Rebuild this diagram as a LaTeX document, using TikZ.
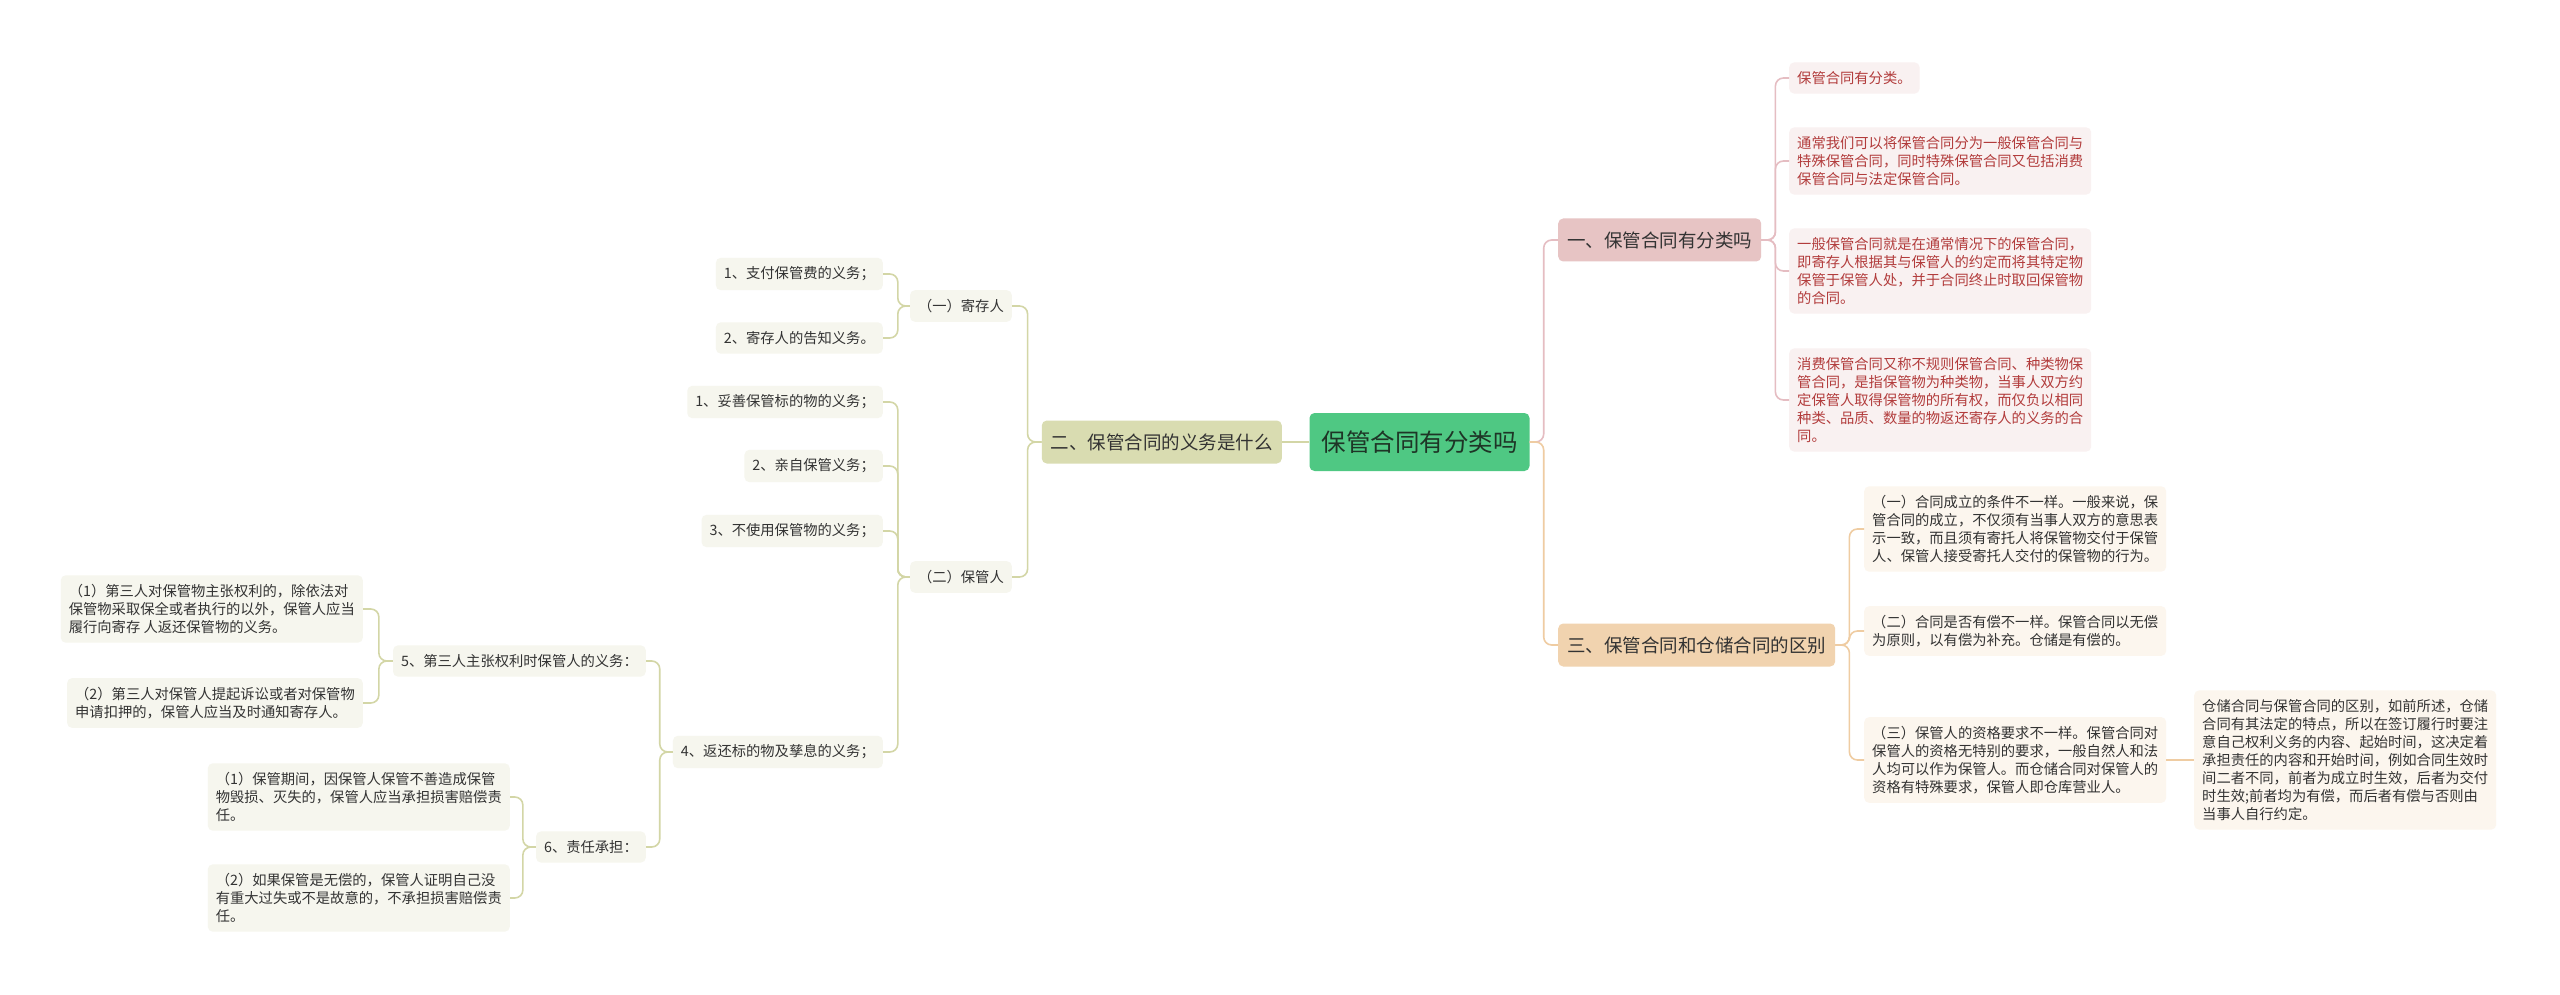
\documentclass[tikz,border=0pt]{standalone}
\usepackage{fontspec}
\newfontfamily\cjk{Noto Sans CJK SC}
\definecolor{cgreen}{HTML}{4FC883}
\definecolor{cgreentext}{HTML}{1E3526}
\definecolor{bpink}{HTML}{E7C4C4}
\definecolor{bolive}{HTML}{D9DCB1}
\definecolor{bpeach}{HTML}{F1D3AF}
\definecolor{lpink}{HTML}{F9F1F1}
\definecolor{lolive}{HTML}{F6F6EE}
\definecolor{lpeach}{HTML}{FCF6EE}
\definecolor{tpink}{HTML}{B23C3C}
\definecolor{tdark}{HTML}{333333}
\definecolor{kpink}{HTML}{E5BDC2}
\definecolor{kolive}{HTML}{D3D6A6}
\definecolor{kpeach}{HTML}{EFCCA2}
\tikzset{
  rootbox/.style={draw=none,fill=cgreen,text=cgreentext,rounded corners=5pt,font=\cjk\fontsize{24.5}{28}\selectfont,inner xsep=12pt,minimum height=58pt},
  branchbox/.style={draw=none,rounded corners=5pt,font=\cjk\fontsize{18.5}{22}\selectfont,text=tdark,inner xsep=9pt,minimum height=43pt},
  leafbox/.style={draw=none,rounded corners=5pt,font=\cjk\fontsize{14.3}{18}\selectfont,inner xsep=8pt,inner ysep=9pt,align=left},
  pinkleaf/.style={leafbox,fill=lpink,text=tpink},
  oliveleaf/.style={leafbox,fill=lolive,text=tdark,minimum height=31pt},
  peachleaf/.style={leafbox,fill=lpeach,text=tdark},
  link/.style={line width=1.6pt,rounded corners=8pt},
  pinklink/.style={link,draw=kpink},
  olivelink/.style={link,draw=kolive},
  peachlink/.style={link,draw=kpeach}
}
\begin{document}
\begin{tikzpicture}[x=1pt,y=-1pt]
\useasboundingbox[fill=white] (0,0) rectangle (2560,995);
% root and branches
\node[rootbox] (c) at (1419.5,442) {保管合同有分类吗};
\node[branchbox,fill=bpink,anchor=west] (b1) at (1558,240) {一、保管合同有分类吗};
\node[branchbox,fill=bolive,anchor=east] (b2) at (1282,442) {二、保管合同的义务是什么};
\node[branchbox,fill=bpeach,anchor=west] (b3) at (1558,645) {三、保管合同和仓储合同的区别};
% pink leaves
\node[pinkleaf,anchor=west] (p1) at (1789,78) {保管合同有分类。};
\node[pinkleaf,anchor=west] (p2) at (1789,161) {通常我们可以将保管合同分为一般保管合同与\\特殊保管合同，同时特殊保管合同又包括消费\\保管合同与法定保管合同。};
\node[pinkleaf,anchor=west] (p3) at (1789,271) {一般保管合同就是在通常情况下的保管合同，\\即寄存人根据其与保管人的约定而将其特定物\\保管于保管人处，并于合同终止时取回保管物\\的合同。};
\node[pinkleaf,anchor=west] (p4) at (1789,400) {消费保管合同又称不规则保管合同、种类物保\\管合同，是指保管物为种类物，当事人双方约\\定保管人取得保管物的所有权，而仅负以相同\\种类、品质、数量的物返还寄存人的义务的合\\同。};
% peach leaves
\node[peachleaf,anchor=west] (q1) at (1864,529) {（一）合同成立的条件不一样。一般来说，保\\管合同的成立，不仅须有当事人双方的意思表\\示一致，而且须有寄托人将保管物交付于保管\\人、保管人接受寄托人交付的保管物的行为。};
\node[peachleaf,anchor=west] (q2) at (1864,631) {（二）合同是否有偿不一样。保管合同以无偿\\为原则，以有偿为补充。仓储是有偿的。};
\node[peachleaf,anchor=west] (q3) at (1864,760) {（三）保管人的资格要求不一样。保管合同对\\保管人的资格无特别的要求，一般自然人和法\\人均可以作为保管人。而仓储合同对保管人的\\资格有特殊要求，保管人即仓库营业人。};
\node[peachleaf,anchor=west] (q4) at (2194,760) {仓储合同与保管合同的区别，如前所述，仓储\\合同有其法定的特点，所以在签订履行时要注\\意自己权利义务的内容、起始时间，这决定着\\承担责任的内容和开始时间，例如合同生效时\\间二者不同，前者为成立时生效，后者为交付\\时生效;前者均为有偿，而后者有偿与否则由\\当事人自行约定。};
% olive side
\node[oliveleaf,anchor=east] (jc) at (1012,306) {（一）寄存人};
\node[oliveleaf,anchor=east] (bg) at (1012,577) {（二）保管人};
\node[oliveleaf,anchor=east] (a1) at (883,274) {1、支付保管费的义务；};
\node[oliveleaf,anchor=east] (a2) at (883,338) {2、寄存人的告知义务。};
\node[oliveleaf,anchor=east] (k1) at (883,402) {1、妥善保管标的物的义务；};
\node[oliveleaf,anchor=east] (k2) at (883,466) {2、亲自保管义务；};
\node[oliveleaf,anchor=east] (k3) at (883,531) {3、不使用保管物的义务；};
\node[oliveleaf,anchor=east] (k4) at (883,752) {4、返还标的物及孳息的义务；};
\node[oliveleaf,anchor=east] (f5) at (646,661) {5、第三人主张权利时保管人的义务：};
\node[oliveleaf,anchor=east] (f6) at (646,847) {6、责任承担：};
\node[oliveleaf,anchor=east] (g1) at (363,609) {（1）第三人对保管物主张权利的，除依法对\\保管物采取保全或者执行的以外，保管人应当\\履行向寄存 人返还保管物的义务。};
\node[oliveleaf,anchor=east] (g2) at (363,703) {（2）第三人对保管人提起诉讼或者对保管物\\申请扣押的，保管人应当及时通知寄存人。};
\node[oliveleaf,anchor=east] (h1) at (510,797) {（1）保管期间，因保管人保管不善造成保管\\物毁损、灭失的，保管人应当承担损害赔偿责\\任。};
\node[oliveleaf,anchor=east] (h2) at (510,898) {（2）如果保管是无偿的，保管人证明自己没\\有重大过失或不是故意的，不承担损害赔偿责\\任。};
% connectors root
\draw[pinklink] (c.east) -- ++(14,0) |- (b1.west);
\draw[peachlink] (c.east) -- ++(14,0) |- (b3.west);
\draw[olivelink] (c.west) -- (b2.east);
% pink
\foreach \n in {p1,p2,p3,p4}{\draw[pinklink] (b1.east) -- ++(14,0) |- (\n.west);}
% peach
\foreach \n in {q1,q2,q3}{\draw[peachlink] (b3.east) -- ++(14,0) |- (\n.west);}
\draw[peachlink] (q3.east) -- (q4.west);
% olive
\foreach \n in {jc,bg}{\draw[olivelink] (b2.west) -- ++(-14,0) |- (\n.east);}
\foreach \n in {a1,a2}{\draw[olivelink] (jc.west) -- ++(-12,0) |- (\n.east);}
\foreach \n in {k1,k2,k3,k4}{\draw[olivelink] (bg.west) -- ++(-12,0) |- (\n.east);}
\foreach \n in {f5,f6}{\draw[olivelink] (k4.west) -- ++(-13,0) |- (\n.east);}
\foreach \n in {g1,g2}{\draw[olivelink] (f5.west) -- ++(-14,0) |- (\n.east);}
\foreach \n in {h1,h2}{\draw[olivelink] (f6.west) -- ++(-13,0) |- (\n.east);}
\end{tikzpicture}
\end{document}
